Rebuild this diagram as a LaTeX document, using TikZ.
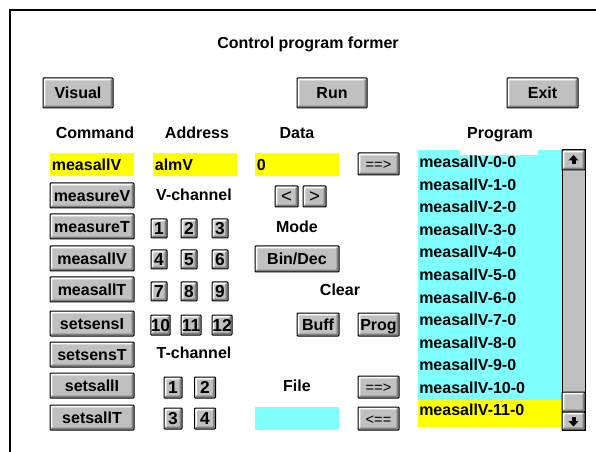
\documentclass[tikz,border=0pt]{standalone}
\usepackage{fontspec}
\setmainfont{Liberation Sans}

\definecolor{winyellow}{RGB}{255,255,0}
\definecolor{wincyan}{RGB}{128,255,255}
\definecolor{wingray}{RGB}{192,192,192}
\definecolor{windark}{RGB}{128,128,128}

\tikzset{
  px/.style 2 args={minimum width=#1*0.75pt, minimum height=#2*0.75pt},
  btn/.style={draw, line width=0.75pt, fill=wingray, rounded corners=0.6pt,
    path picture={
      \draw[white, line width=1.5pt]
        ([shift={(1.1pt,1.1pt)}]path picture bounding box.south west) |-
        ([shift={(-1.1pt,-1.1pt)}]path picture bounding box.north east);
      \draw[windark, line width=1.5pt]
        ([shift={(1.1pt,1.1pt)}]path picture bounding box.south west) -|
        ([shift={(-1.1pt,-1.1pt)}]path picture bounding box.north east);
    }},
  plainbtn/.style={font=\fontsize{11}{13}\selectfont\mdseries},
  arrowbtn/.style={font=\fontsize{14}{16}\selectfont\mdseries, text height=9pt},
  numbtn/.style={font=\fontsize{13}{15}\selectfont\bfseries, text height=9.3pt},
  field/.style={anchor=north west, inner xsep=1.2pt, minimum height=17.25pt,
    text width=60.6pt, align=left},
}

\begin{document}
\begin{tikzpicture}[x=0.75pt, y=-0.75pt,
    font=\fontsize{12}{14}\selectfont\bfseries,
    every node/.style={inner sep=0pt, text height=8.6pt, text depth=0pt}]
  \useasboundingbox (0,0) rectangle (596,452);
  \draw[line width=1.5pt] (10,452) -- (10,10) -- (596,10);

  \node (title) at (308,43) {Control program former};

  % top row
  \node[btn, px={70}{30}] (visual) at (78,93)    {Visual};
  \node[btn, px={70}{30}] (run)    at (332,93)   {Run};
  \node[btn, px={71}{30}] (exit)   at (542.5,93) {Exit};

  % column heads
  \node (hcmd)  at (95,133)  {Command};
  \node (haddr) at (197,133) {Address};
  \node (hdata) at (297,133) {Data};
  \node (hprog) at (500,133) {Program};

  % edit line
  \node[field, fill=winyellow] (cmdfield)  at (50,153)  {measallV};
  \node[field, fill=winyellow] (addrfield) at (153,153) {almV};
  \node[field, fill=winyellow] (datafield) at (255,153) {0};
  \node[btn, plainbtn, px={41}{22}] (addline) at (378.5,164) {==>};

  % commands
  \node[btn, px={84}{25}] (measureV) at (92,195.5) {measureV};
  \node[btn, px={84}{25}] (measureT) at (92,226.5) {measureT};
  \node[btn, px={84}{25}] (measallV) at (92,258.5) {measallV};
  \node[btn, px={84}{25}] (measallT) at (92,289.5) {measallT};
  \node[btn, px={84}{25}] (setsensI) at (92,323.5) {setsensI};
  \node[btn, px={84}{25}] (setsensT) at (92,354.5) {setsensT};
  \node[btn, px={84}{25}] (setsallI) at (92,385.5) {setsallI};
  \node[btn, px={84}{25}] (setsallT) at (92,417.5) {setsallT};

  % V channels
  \node (vchan) at (194,195) {V-channel};
  \node[btn, numbtn, px={16}{19}] (v1)  at (159,228.5) {1};
  \node[btn, numbtn, px={16}{19}] (v2)  at (189,228.5) {2};
  \node[btn, numbtn, px={16}{19}] (v3)  at (220,228.5) {3};
  \node[btn, numbtn, px={16}{19}] (v4)  at (159,259.5) {4};
  \node[btn, numbtn, px={16}{19}] (v5)  at (189,259.5) {5};
  \node[btn, numbtn, px={16}{19}] (v6)  at (220,259.5) {6};
  \node[btn, numbtn, px={16}{19}] (v7)  at (159,291.5) {7};
  \node[btn, numbtn, px={16}{19}] (v8)  at (189,291.5) {8};
  \node[btn, numbtn, px={16}{19}] (v9)  at (220,291.5) {9};
  \node[btn, numbtn, px={19}{20}] (v10) at (160.5,325) {10};
  \node[btn, numbtn, px={20}{20}] (v11) at (191,325)   {11};
  \node[btn, numbtn, px={20}{20}] (v12) at (222,325)   {12};

  % T channels
  \node (tchan) at (194,353) {T-channel};
  \node[btn, numbtn, px={18}{21}] (t1) at (173,387.5) {1};
  \node[btn, numbtn, px={21}{21}] (t2) at (205,387.5) {2};
  \node[btn, numbtn, px={18}{21}] (t3) at (173,418.5) {3};
  \node[btn, numbtn, px={21}{21}] (t4) at (205,418.5) {4};

  % data, mode, clear, file
  \node[btn, arrowbtn, px={23}{21}] (dec) at (286.5,196.5) {<};
  \node[btn, arrowbtn, px={23}{21}] (inc) at (314.5,196.5) {>};
  \node (mode) at (297,227) {Mode};
  \node[btn, px={84}{26}] (bindec) at (297,259) {Bin/Dec};
  \node (clear) at (340,290) {Clear};
  \node[btn, px={42}{23}] (buff) at (318,324.5)   {Buff};
  \node[btn, px={41}{23}] (prog) at (378.5,324.5) {Prog};
  \node (file) at (297,386) {File};
  \node[btn, plainbtn, px={41}{22}] (tofile)   at (378.5,387)   {==>};
  \node[btn, plainbtn, px={41}{23}] (fromfile) at (378.5,418.5) {<==};
  \node[field, fill=wincyan] (filefield) at (255,407) {};

  % program list
  \fill[wincyan] (418,150) rectangle (562,427);
  \fill[winyellow] (418,400) rectangle (562,427);
  \fill[white] (460,150) rectangle (538,155);
  \foreach \i in {0,...,11}
    \node[anchor=west] (line\i) at (419,162+22.55*\i) {measallV-\i-0};

  % scroll bar
  \draw[line width=0.75pt, fill=wingray] (562,150) rectangle (585,430);
  \node[btn, px={23}{20}] (up)    at (573.5,160) {};
  \node[btn, px={23}{20}] (thumb) at (573.5,402) {};
  \node[btn, px={23}{18}] (down)  at (573.5,421) {};
  \fill (573.5,155) -- (568.5,160.5) -- (578.5,160.5) -- cycle;
  \fill (571.5,160) rectangle (575.5,164.5);
  \fill (573.5,426.5) -- (568.5,421) -- (578.5,421) -- cycle;
  \fill (571.5,416.5) rectangle (575.5,421.5);
\end{tikzpicture}
\end{document}
